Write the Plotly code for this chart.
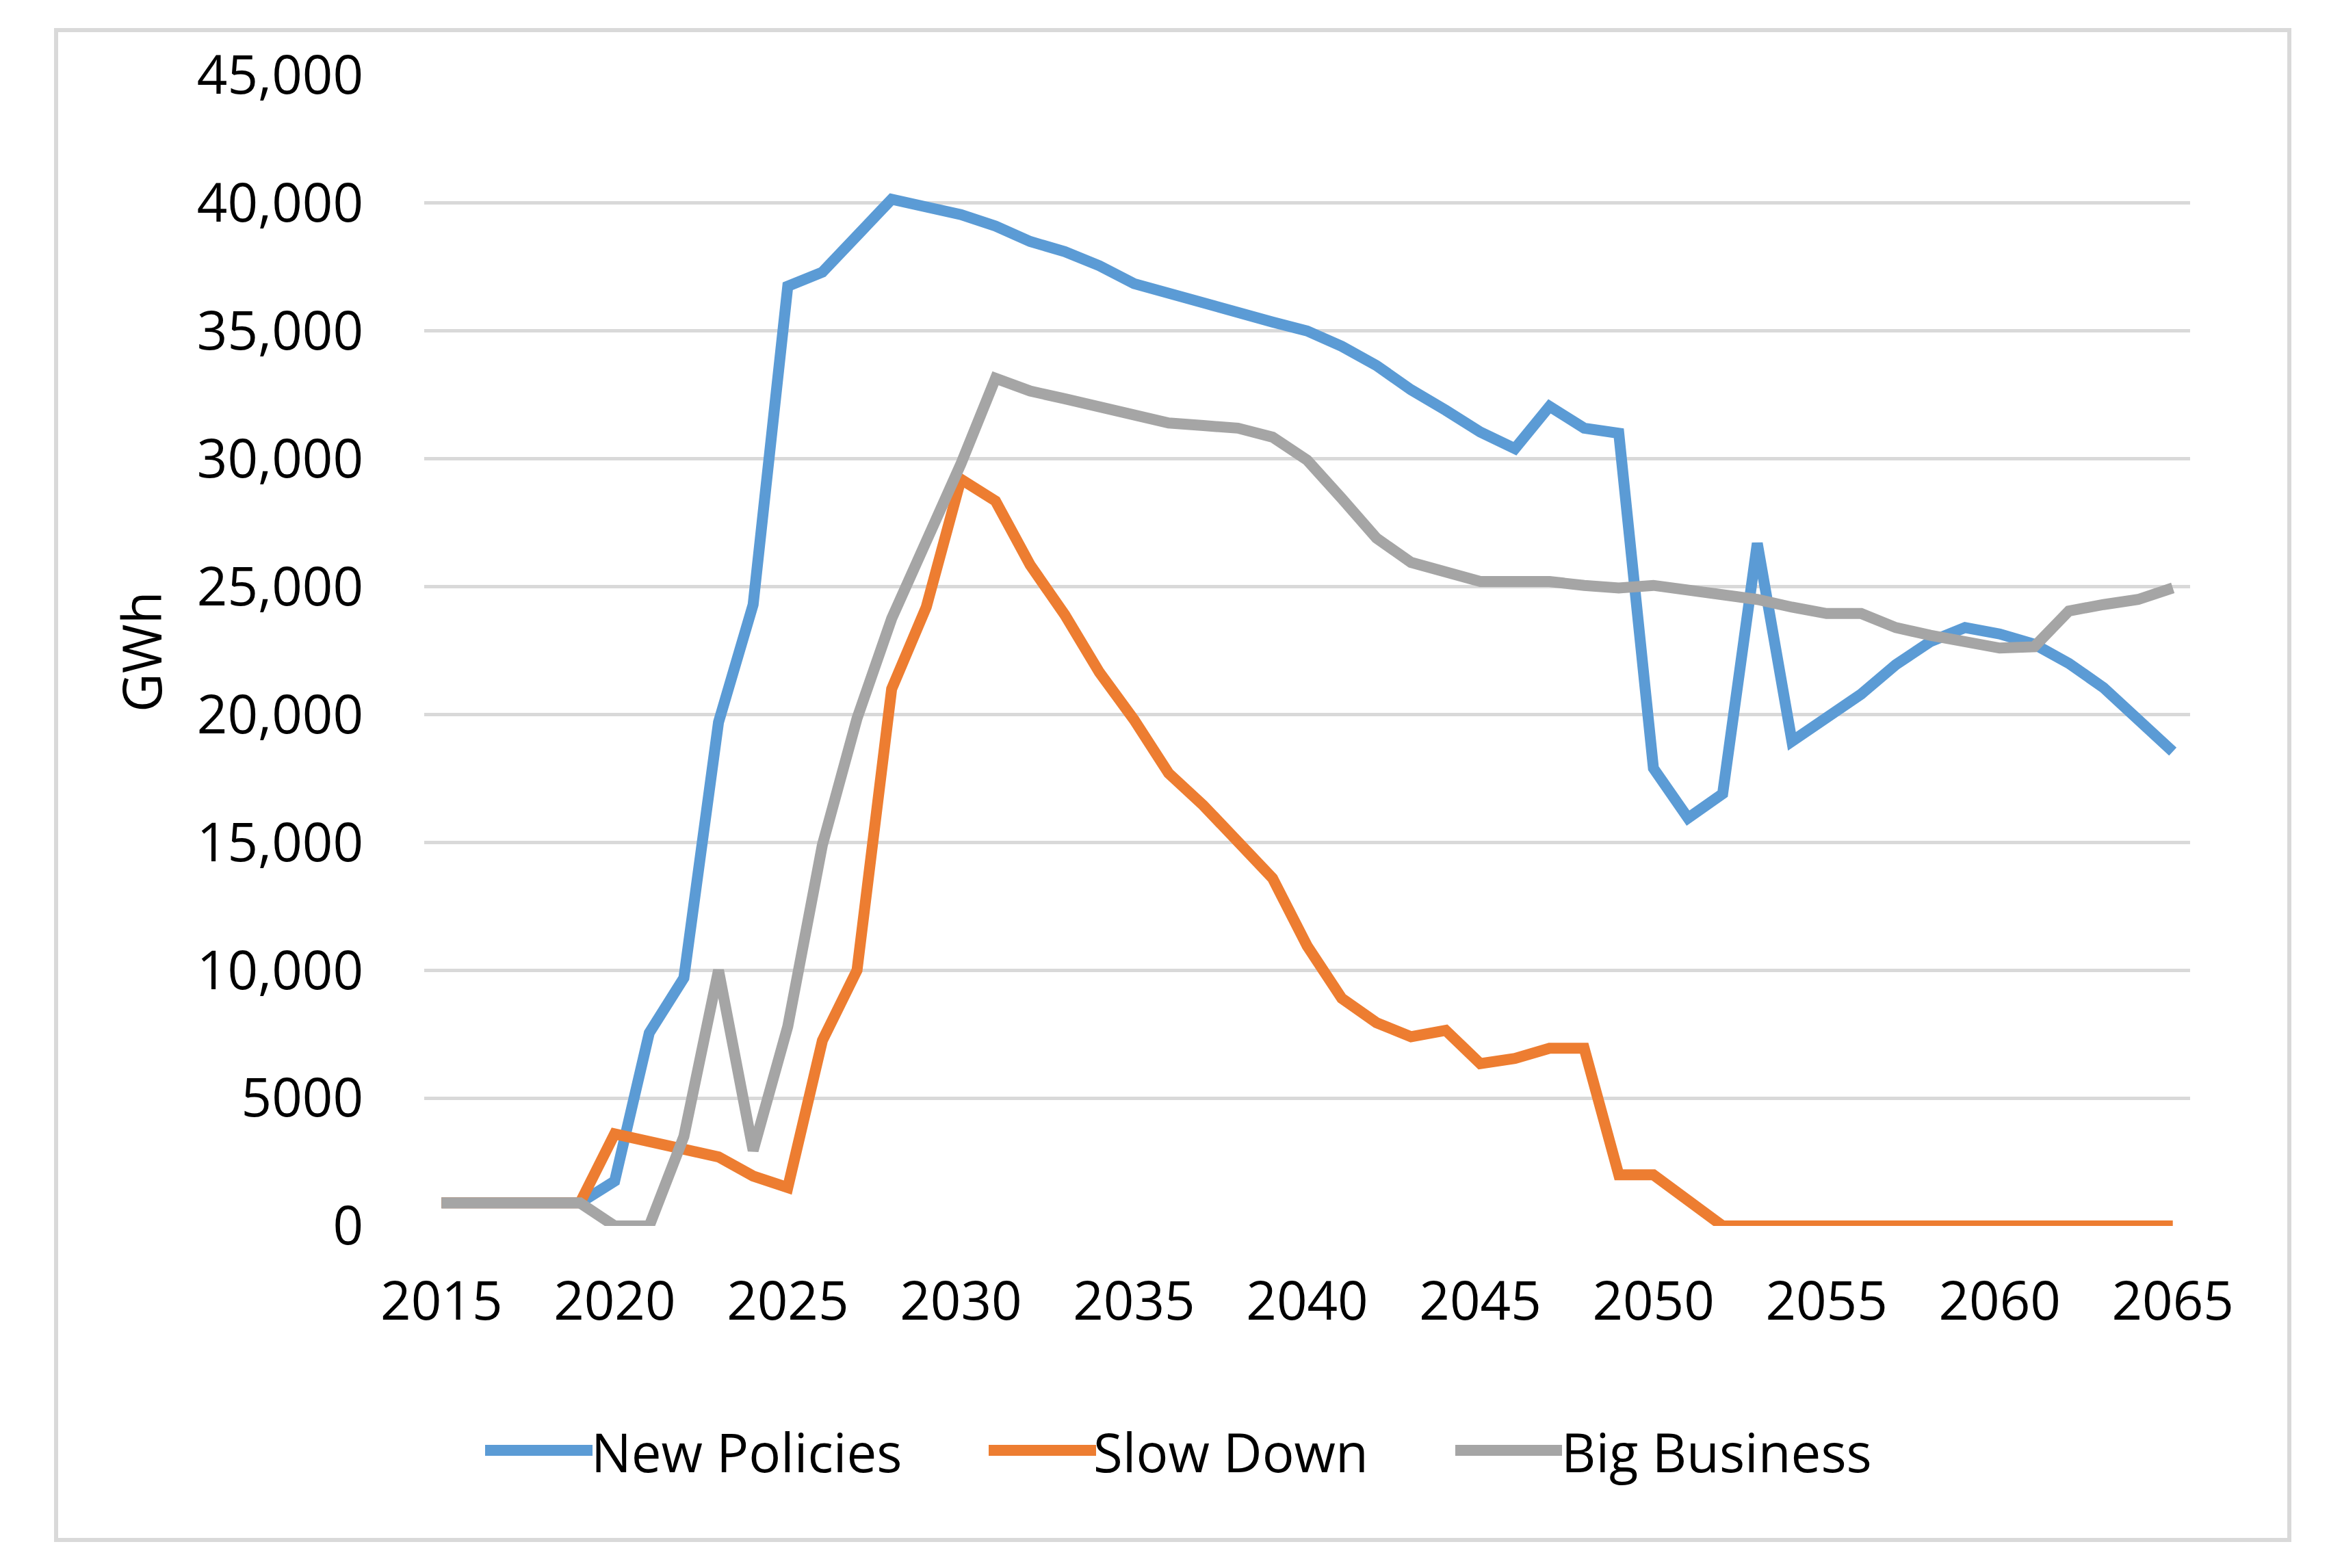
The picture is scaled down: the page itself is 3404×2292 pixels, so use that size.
import plotly.graph_objects as go

# ---------------- data ----------------
years = list(range(2015, 2066))

new_policies = [900, 900, 900, 900, 900, 1750, 7550, 9700, 19700, 24300,
                36750, 37300, 38750, 40150, 39850, 39550, 39100, 38500, 38100, 37550,
                36850, 36450, 36050, 35700, 35350, 35000, 34400, 33650, 32700, 31900,
                31050, 30400, 32050, 31200, 31000, 17900, 15950, 16900, 26700, 18950,
                19900, 20800, 21950, 22850, 23400, 23150, 22750, 22000, 21050, 19850,
                18550]

slow_down = [900, 900, 900, 900, 900, 3600, 3250, 3000, 2700, 1950,
             1500, 7250, 10000, 21000, 24200, 29200, 28350, 25850, 23900, 21650,
             19800, 17700, 16450, 14950, 13600, 10950, 8900, 7950, 7400, 7650,
             6350, 6550, 6950, 6950, 2000, 2000, 1000, 0, 0, 0,
             0, 0, 0, 0, 0, 0, 0, 0, 0, 0,
             0]

big_business = [900, 900, 900, 900, 900, 0, 0, 3500, 10000, 2950,
                7800, 14900, 19850, 23750, 26800, 29800, 33150, 32650, 32350, 32000,
                31700, 31400, 31300, 31200, 30850, 29950, 28450, 26900, 25950, 25550,
                25200, 25200, 25200, 25050, 24950, 25050, 24850, 24750, 24500, 24200,
                23950, 23950, 23400, 23100, 22800, 22600, 22650, 24050, 24300, 24500,
                24950]

series_names = ["New Policies", "Slow Down", "Big Business"]
series_colors = ["#5B9BD5", "#ED7D31", "#A5A5A5"]

y_tick_vals = [0, 5000, 10000, 15000, 20000, 25000, 30000, 35000, 40000, 45000]
y_tick_text = ["0", "5000", "10,000", "15,000", "20,000", "25,000",
               "30,000", "35,000", "40,000", "45,000"]
x_tick_vals = [2015, 2020, 2025, 2030, 2035, 2040, 2045, 2050, 2055, 2060, 2065]
y_title = "GWh"

# ---------------- layout geometry (pixels) ----------------
FIG_W, FIG_H = 3404, 2292
PL, PR, PT, PB = 612, 3193, 102, 1784   # plot area edges
PW, PH = PR - PL, PB - PT

def px_x(p):
    return (p - PL) / PW

def px_y(p):
    return (PB - p) / PH

FONT = "Open Sans"
FSIZE = 78
LW = 16

fig = go.Figure()
for name, vals, col in zip(series_names, [new_policies, slow_down, big_business], series_colors):
    fig.add_trace(go.Scatter(x=years, y=vals, mode="lines", name=name,
                             line=dict(color=col, width=LW), showlegend=False))

shapes = []
annotations = []

# outer border
shapes.append(dict(type="rect", xref="paper", yref="paper",
                   x0=px_x(74), x1=px_x(3338), y0=px_y(2243), y1=px_y(36),
                   line=dict(color="#D9D9D9", width=6), fillcolor="rgba(0,0,0,0)",
                   layer="below"))

# custom legend
legend_y = 2112
legend_items = [(701, 858, 854), (1437, 1594, 1588), (2119, 2275, 2272)]
for (lx0, lx1, tx), name, col in zip(legend_items, series_names, series_colors):
    shapes.append(dict(type="line", xref="paper", yref="paper",
                       x0=px_x(lx0), x1=px_x(lx1), y0=px_y(legend_y), y1=px_y(legend_y),
                       line=dict(color=col, width=LW)))
    annotations.append(dict(xref="paper", yref="paper", x=px_x(tx), y=px_y(legend_y + 2),
                            text=name, showarrow=False, xanchor="left", yanchor="middle",
                            font=dict(family=FONT, size=FSIZE, color="#000000")))

# y-axis title
annotations.append(dict(xref="paper", yref="paper", x=px_x(198), y=px_y(945),
                        text=y_title, textangle=-90, showarrow=False,
                        xanchor="center", yanchor="middle",
                        font=dict(family=FONT, size=FSIZE, color="#000000")))

fig.update_layout(
    width=FIG_W, height=FIG_H,
    margin=dict(l=PL, r=FIG_W - PR, t=PT, b=FIG_H - PB, pad=0),
    paper_bgcolor="white", plot_bgcolor="white",
    font=dict(family=FONT, size=FSIZE, color="#000000"),
    shapes=shapes, annotations=annotations,
    showlegend=False,
)
fig.update_xaxes(range=[2014.5, 2065.5], tickvals=x_tick_vals,
                 showgrid=False, zeroline=False, showline=False, ticks="",
                 ticklabelstandoff=58,
                 tickfont=dict(family=FONT, size=FSIZE, color="#000000"))
fig.update_yaxes(range=[0, 45000], tickvals=y_tick_vals, ticktext=y_tick_text,
                 showgrid=True, gridcolor="#D9D9D9", gridwidth=5,
                 zeroline=False, showline=False, ticks="",
                 ticklabelstandoff=88,
                 tickfont=dict(family=FONT, size=FSIZE, color="#000000"))

fig.write_html("out.html")
